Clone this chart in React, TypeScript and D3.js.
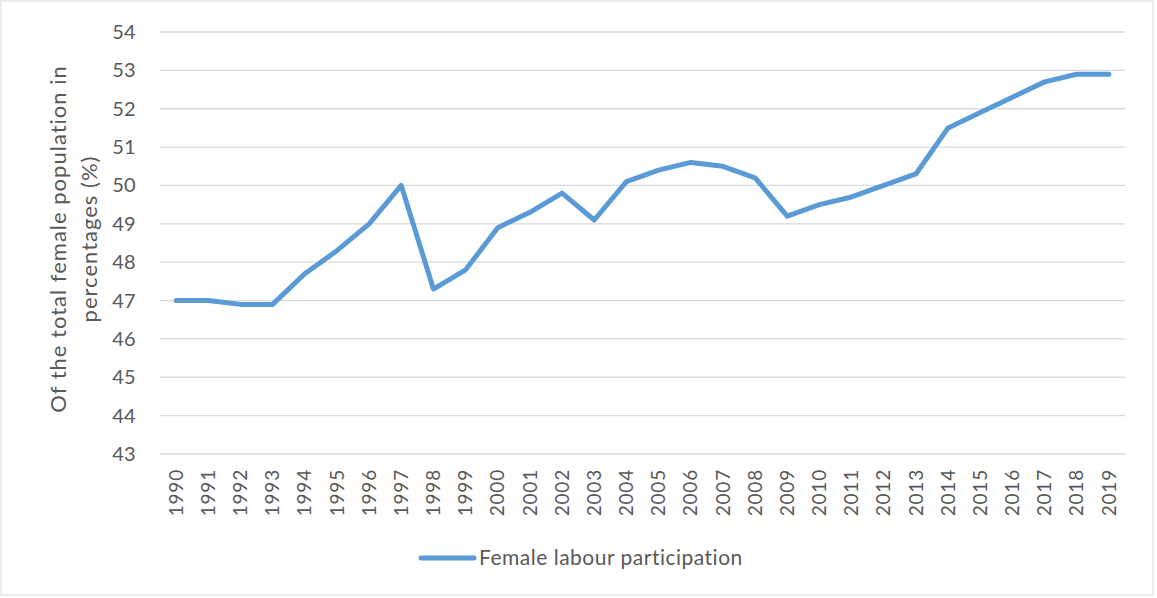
import React from "react";
import * as d3 from "d3";

const years = [
  "1990", "1991", "1992", "1993", "1994", "1995", "1996", "1997", "1998", "1999",
  "2000", "2001", "2002", "2003", "2004", "2005", "2006", "2007", "2008", "2009",
  "2010", "2011", "2012", "2013", "2014", "2015", "2016", "2017", "2018", "2019",
];
const participation = [
  47.0, 47.0, 46.9, 46.9, 47.7, 48.3, 49.0, 50.0, 47.3, 47.8,
  48.9, 49.3, 49.8, 49.1, 50.1, 50.4, 50.6, 50.5, 50.2, 49.2,
  49.5, 49.7, 50.0, 50.3, 51.5, 51.9, 52.3, 52.7, 52.9, 52.9,
];
const yTicks = [43, 44, 45, 46, 47, 48, 49, 50, 51, 52, 53, 54];
const seriesName = "Female labour participation";

const W = 1157;
const H = 598;
const FONT = "Lato, 'Open Sans', sans-serif";
const TEXT = "#595959";
const BLUE = "#5B9BD5";

export default function App() {
  const left = 160;
  const right = 1125;
  const top = 32;
  const bottom = 454;

  const x = d3.scaleBand<string>().domain(years).range([left, right]);
  const y = d3.scaleLinear().domain([43, 54]).range([bottom, top]);

  const line = d3
    .line<number>()
    .x((_, i) => (x(years[i]) ?? 0) + x.bandwidth() / 2)
    .y((d) => y(d));

  return (
    <svg
      width={W}
      height={H}
      style={{ position: "absolute", left: 0, top: 0, background: "#fff" }}
      fontFamily={FONT}
    >
      <rect x={1} y={1} width={W - 5} height={H - 4} fill="#fff" stroke="#d9d9d9" />
      <g className="grid">
        {yTicks.map((t) => (
          <line key={t} x1={left} x2={right} y1={y(t)} y2={y(t)} stroke="#d9d9d9" strokeWidth={1.3} />
        ))}
      </g>
      <g className="y-labels">
        {yTicks.map((t) => (
          <text key={t} x={136} y={y(t)} dy="0.35em" textAnchor="end" fontSize={20} letterSpacing={0.3} fill={TEXT}>
            {t}
          </text>
        ))}
      </g>
      <g className="x-labels">
        {years.map((yr) => {
          const cx = (x(yr) ?? 0) + x.bandwidth() / 2;
          return (
            <text
              key={yr}
              transform={`translate(${cx},469) rotate(-90)`}
              dy="0.35em"
              textAnchor="end"
              fontSize={19}
              letterSpacing={0.8}
              fill={TEXT}
            >
              {yr}
            </text>
          );
        })}
      </g>
      <text
        transform={`translate(58,${(top + bottom) / 2 - 4}) rotate(-90)`}
        textAnchor="middle"
        fontSize={22}
        letterSpacing={1}
        fill={TEXT}
      >
        <tspan x={0} dy="0.35em">Of the total female population in</tspan>
        <tspan x={0} dy="1.4em">percentages (%)</tspan>
      </text>
      <path
        d={line(participation) ?? ""}
        fill="none"
        stroke={BLUE}
        strokeWidth={5}
        strokeLinejoin="round"
        strokeLinecap="round"
      />
      <g className="legend">
        <line x1={421} x2={474} y1={558} y2={558} stroke={BLUE} strokeWidth={5} strokeLinecap="round" />
        <text x={479} y={558} dy="0.35em" fontSize={21} letterSpacing={0.5} fill={TEXT}>
          {seriesName}
        </text>
      </g>
    </svg>
  );
}
